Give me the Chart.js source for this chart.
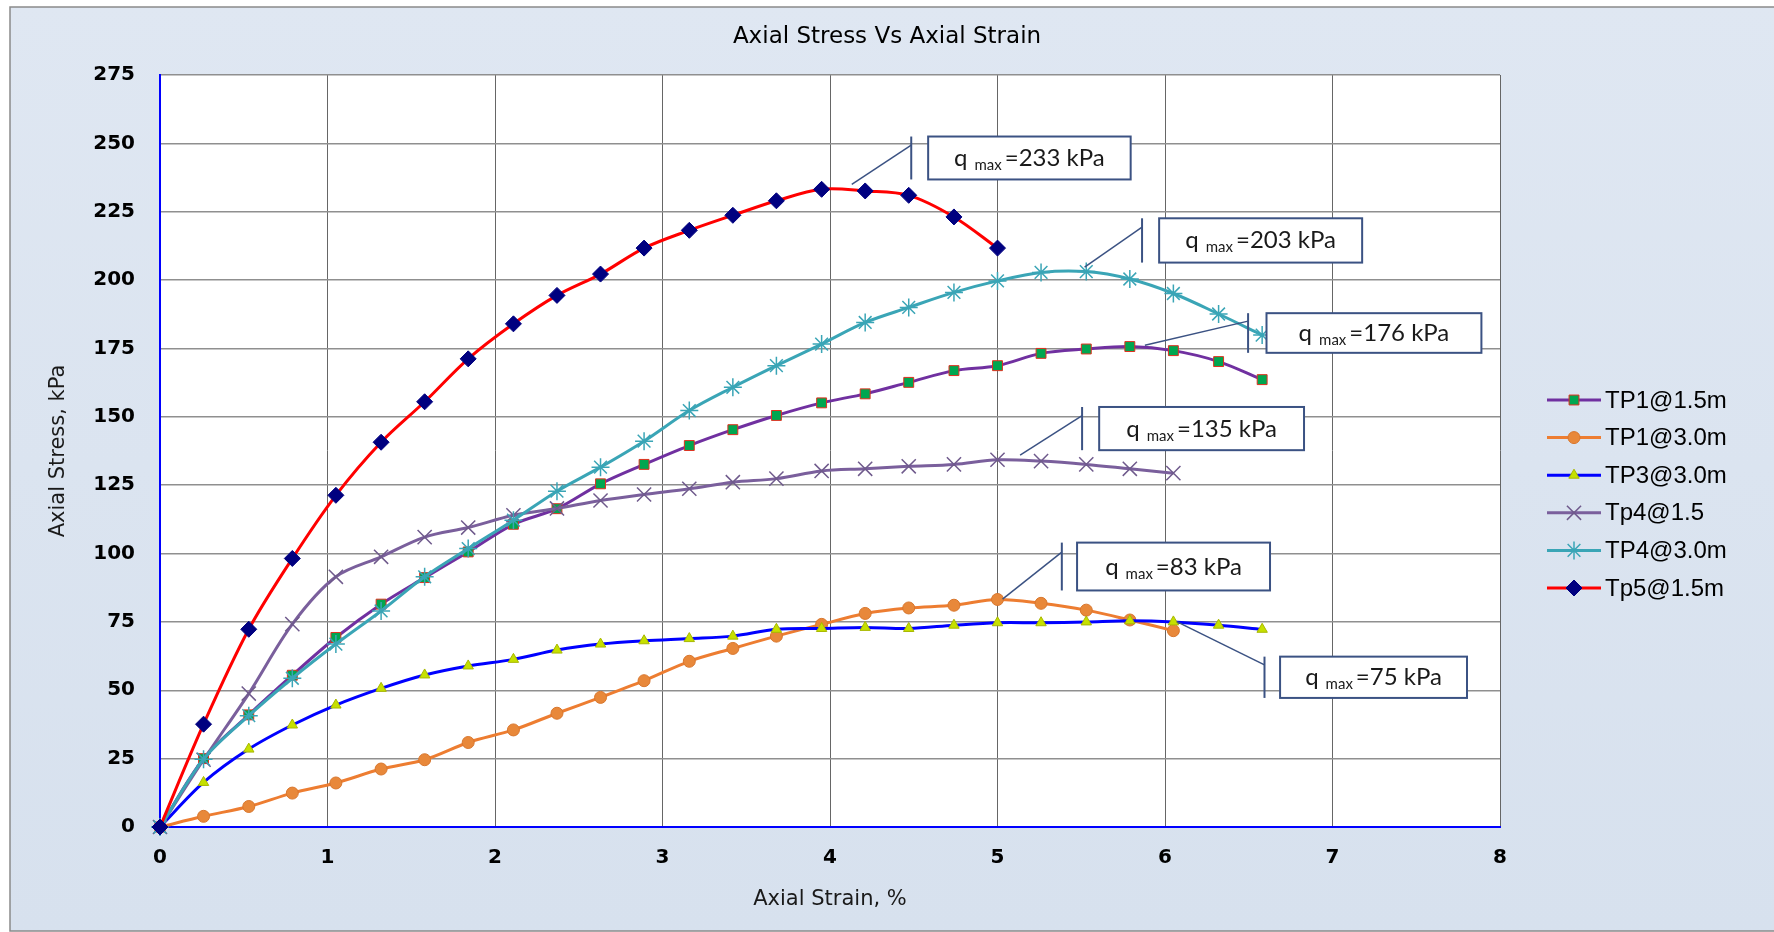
<!DOCTYPE html>
<html>
<head>
<meta charset="utf-8">
<script src="https://cdn.jsdelivr.net/npm/chart.js@4.4.0/dist/chart.umd.min.js"></script>
<style>
html,body{margin:0;padding:0;background:#fff;}
#wrap{width:1774px;height:932px;}
</style>
</head>
<body>
<div id="wrap"><canvas id="chart" width="1774" height="932"></canvas></div>
<script>
// axial strain (%) of each reading
var strain = [0, 0.26, 0.53, 0.79, 1.05, 1.32, 1.58, 1.84, 2.11, 2.37, 2.63, 2.89, 3.16, 3.42, 3.68, 3.95, 4.21, 4.47, 4.74, 5.00, 5.26, 5.53, 5.79, 6.05, 6.32, 6.58];

// axial stress (kPa) per sample
var tp1_15 = [0, 25, 41, 55.5, 69.3, 81.5, 91.2, 100.6, 110.7, 116.4, 125.5, 132.6, 139.5, 145.3, 150.5, 155.1, 158.4, 162.6, 166.9, 168.7, 173.2, 174.8, 175.7, 174.2, 170.2, 163.6];
var tp1_30 = [0, 3.9, 7.5, 12.4, 16.1, 21.2, 24.6, 30.9, 35.5, 41.6, 47.4, 53.5, 60.6, 65.3, 69.8, 74.1, 78.1, 80.1, 81.1, 83.2, 81.8, 79.3, 75.7, 71.8];
var tp3_30 = [0, 16.3, 28.5, 37.3, 44.6, 50.7, 55.6, 58.9, 61.3, 64.7, 66.9, 68.1, 68.9, 69.8, 72.3, 72.6, 73.0, 72.6, 73.8, 74.7, 74.7, 75.0, 75.4, 75.0, 73.8, 72.3];
var tp4_15 = [0, 24.6, 48.8, 74.2, 91.5, 98.8, 106, 109.5, 114, 116.5, 119.4, 121.6, 123.7, 126.1, 127.4, 130.2, 131, 131.9, 132.6, 134.3, 133.8, 132.6, 131.0, 129.4];
var tp4_30 = [0, 24.8, 40.7, 54.4, 66.9, 79, 91.5, 101.8, 112.2, 122.8, 131.6, 141.1, 152.3, 160.8, 168.7, 176.6, 184.5, 190, 195.5, 199.7, 202.8, 203.1, 200.4, 195.1, 187.6, 179.9];
var tp5_15 = [0, 37.6, 72.3, 98.2, 121.3, 140.7, 155.5, 171.2, 184, 194.4, 202.2, 211.7, 218.2, 223.7, 229, 233.2, 232.6, 231.0, 223.1, 211.7];

var seriesNames = ['TP1@1.5m', 'TP1@3.0m', 'TP3@3.0m', 'Tp4@1.5', 'TP4@3.0m', 'Tp5@1.5m'];
var qmaxValues = [233, 203, 176, 135, 83, 75];

// callout geometry, in axis units (strain, kPa)
var callouts = [
    {q: qmaxValues[0], from: [4.13, 235], barX: 4.485, top: 252.5, bottom: 236.8, left: 4.586, right: 5.795},
    {q: qmaxValues[1], from: [5.52, 204.7], barX: 5.863, top: 222.6, bottom: 206.4, left: 5.965, right: 7.177},
    {q: qmaxValues[2], from: [5.88, 176.2], barX: 6.496, top: 187.9, bottom: 173.4, left: 6.606, right: 7.889},
    {q: qmaxValues[3], from: [5.135, 136], barX: 5.505, top: 153.6, bottom: 137.8, left: 5.607, right: 6.83},
    {q: qmaxValues[4], from: [5.03, 83.3], barX: 5.384, top: 104, bottom: 86.5, left: 5.475, right: 6.627},
    {q: qmaxValues[5], from: [6.07, 75.1], barX: 6.594, top: 62.3, bottom: 47.2, left: 6.687, right: 7.803}
];

function toPoints(vals){
    var pts = [];
    for(let i=0;i<vals.length;i++){
        pts.push({x: strain[i], y: vals[i]});
    }
    return pts;
}

var bgPlugin = {
    id: 'bg',
    beforeDraw(chart){
        var ctx = chart.ctx, a = chart.chartArea;
        ctx.save();
        ctx.fillStyle = '#fff';
        ctx.fillRect(0, 0, chart.width, chart.height);
        var g = ctx.createLinearGradient(0, 0, 0, chart.height);
        g.addColorStop(0, '#dfe7f2');
        g.addColorStop(1, '#d7e1ee');
        ctx.fillStyle = g;
        ctx.fillRect(10, 7, chart.width, 924);
        ctx.strokeStyle = '#8a8a8a';
        ctx.lineWidth = 1.5;
        ctx.strokeRect(10, 7, chart.width + 10, 924);
        ctx.fillStyle = '#fff';
        ctx.fillRect(a.left, a.top, a.right - a.left, a.bottom - a.top);
        ctx.restore();
    }
};

var calloutPlugin = {
    id: 'callouts',
    afterDatasetsDraw(chart){
        var ctx = chart.ctx, xs = chart.scales.x, ys = chart.scales.y;
        callouts.forEach(c => {
            var ax = xs.getPixelForValue(c.from[0]), ay = ys.getPixelForValue(c.from[1]);
            var bx = xs.getPixelForValue(c.barX);
            var top = ys.getPixelForValue(c.top), bot = ys.getPixelForValue(c.bottom);
            var left = xs.getPixelForValue(c.left), right = xs.getPixelForValue(c.right);
            var joinY = top + (bot - top) * 0.2;
            ctx.save();
            ctx.strokeStyle = '#3b5283';
            ctx.lineWidth = 1.5;
            ctx.beginPath(); ctx.moveTo(ax, ay); ctx.lineTo(bx, joinY); ctx.stroke();
            ctx.lineWidth = 2;
            ctx.beginPath(); ctx.moveTo(bx, top); ctx.lineTo(bx, bot); ctx.stroke();
            ctx.fillStyle = '#fff';
            ctx.fillRect(left, top, right - left, bot - top);
            ctx.strokeRect(left, top, right - left, bot - top);

            // q max =xxx kPa
            var big = '24px Lato', small = '15px Lato';
            var rest = '=' + c.q + ' kPa';
            ctx.font = big;
            var wq = ctx.measureText('q').width, wr = ctx.measureText(rest).width;
            ctx.font = small;
            var wm = ctx.measureText('max').width;
            var gap1 = 7, gap2 = 3;
            var total = wq + gap1 + wm + gap2 + wr;
            var x = (left + right) / 2 - total / 2;
            var base = (top + bot) / 2 + 8;
            ctx.fillStyle = '#1a1a1a';
            ctx.textBaseline = 'alphabetic';
            ctx.textAlign = 'left';
            ctx.font = big;
            ctx.fillText('q', x, base);
            ctx.font = small;
            ctx.fillText('max', x + wq + gap1, base + 4);
            ctx.font = big;
            ctx.fillText(rest, x + wq + gap1 + wm + gap2, base);
            ctx.restore();
        });
    }
};

var legendPlugin = {
    id: 'sideLegend',
    afterDraw(chart){
        var ctx = chart.ctx;
        chart.data.datasets.forEach((ds, i) => {
            var y = 400 + i * 37.6;
            ctx.save();
            ctx.strokeStyle = ds.borderColor;
            ctx.lineWidth = 3;
            ctx.beginPath(); ctx.moveTo(1547, y); ctx.lineTo(1601, y); ctx.stroke();
            ctx.fillStyle = ds.pointBackgroundColor;
            ctx.strokeStyle = ds.pointBorderColor;
            ctx.lineWidth = ds.pointBorderWidth;
            Chart.helpers.drawPoint(ctx, {pointStyle: ds.pointStyle, radius: ds.pointRadius, rotation: 0, borderWidth: ds.pointBorderWidth}, 1574, y);
            ctx.fillStyle = '#000';
            ctx.font = '24px "Liberation Sans", Arial';
            ctx.textBaseline = 'middle';
            ctx.textAlign = 'left';
            ctx.fillText(ds.label, 1605, y + 1);
            ctx.restore();
        });
    }
};

function lineSet(i, vals, color, style, fill, edge, radius, bw, order){
    return {
        label: seriesNames[i],
        data: toPoints(vals),
        borderColor: color,
        borderWidth: 3,
        pointStyle: style,
        pointBackgroundColor: fill,
        pointBorderColor: edge,
        pointBorderWidth: bw,
        pointRadius: radius,
        tension: 0.33,
        clip: false,
        order: order
    };
}

var ctx = document.getElementById('chart').getContext('2d');
var myChart = new Chart(ctx, {
    type: 'line',
    data: {
        datasets: [
            lineSet(0, tp1_15, '#7030a0', 'rect', '#00a650', '#e0301e', 7, 1, 6),
            lineSet(1, tp1_30, '#ed7d31', 'circle', '#e8883a', '#d9772e', 6, 1, 5),
            lineSet(2, tp3_30, '#0000ff', 'triangle', '#c6e000', '#a8b800', 6, 1, 4),
            lineSet(3, tp4_15, '#7a5f9c', 'crossRot', '#7a5f9c', '#6f5a8c', 10, 1.5, 3),
            lineSet(4, tp4_30, '#3aa5b6', 'star', '#3aa5b6', '#3aa5b6', 9, 1.5, 2),
            lineSet(5, tp5_15, '#ff0000', 'rectRot', '#000080', '#000080', 8, 1, 1)
        ]
    },
    options: {
        responsive: false,
        animation: false,
        devicePixelRatio: 1,
        layout: {padding: 0},
        plugins: {
            legend: {display: false},
            tooltip: {enabled: false},
            title: {
                display: true,
                text: 'Axial Stress Vs Axial Strain',
                color: '#000',
                font: {family: 'DejaVu Sans', size: 23, weight: 'normal'},
                padding: {top: 23, bottom: 24.4}
            }
        },
        scales: {
            x: {
                type: 'linear',
                min: 0,
                max: 8,
                ticks: {stepSize: 1, color: '#000', padding: 19, font: {family: 'DejaVu Sans', size: 20, weight: 'bold'}},
                grid: {color: '#666', lineWidth: 1, drawTicks: false},
                border: {color: '#0000ff', width: 2},
                title: {display: true, text: 'Axial Strain, %', color: '#1a1a1a', font: {family: 'DejaVu Sans', size: 21}, padding: {top: 0, bottom: 20}},
                afterFit: function(s){ s.height = 105; }
            },
            y: {
                min: 0,
                max: 275,
                ticks: {stepSize: 25, color: '#000', padding: 25, font: {family: 'DejaVu Sans', size: 20, weight: 'bold'}},
                grid: {color: '#8f8f8f', lineWidth: 1.5, drawTicks: false},
                border: {color: '#0000ff', width: 2},
                title: {display: true, text: 'Axial Stress, kPa', color: '#1a1a1a', font: {family: 'DejaVu Sans', size: 21}, padding: {top: 46, bottom: 0}},
                afterFit: function(s){ s.width = 160; }
            },
            // empty band on the right that holds the legend
            side: {
                position: 'right',
                min: 0,
                max: 1,
                ticks: {display: false},
                grid: {display: false, drawOnChartArea: false},
                border: {display: false},
                afterFit: function(s){ s.width = 274; }
            }
        }
    },
    plugins: [bgPlugin, calloutPlugin, legendPlugin]
});
</script>
</body>
</html>
